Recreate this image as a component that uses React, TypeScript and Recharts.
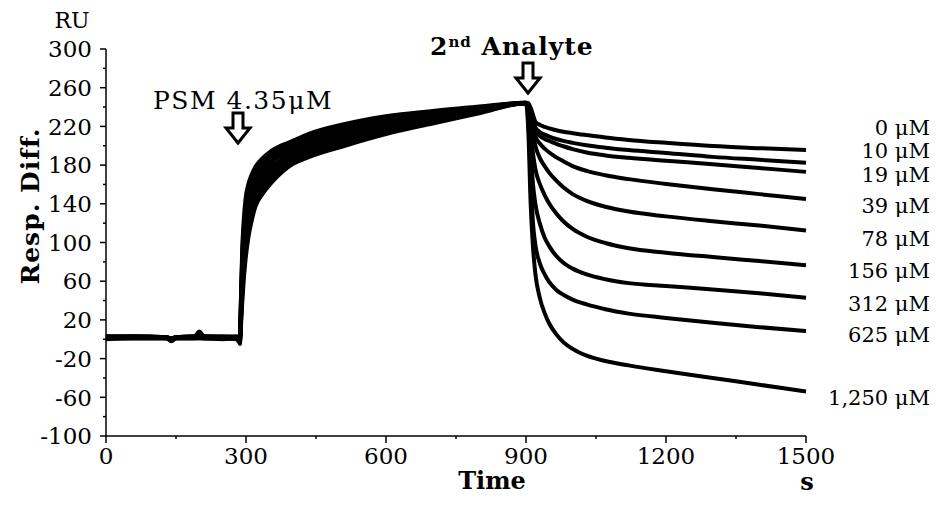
import React from "react";
import { LineChart, Line, XAxis, YAxis } from "recharts";

// time points (s)
const times = [
  0, 60, 130, 140, 150, 190, 200, 210, 250, 280, 285, 287,
  289, 292, 295, 299, 305, 312, 320, 335, 355, 400, 433, 512, 600, 700, 800, 900,
  905, 910, 915, 920, 930, 940, 950, 965, 980, 1000, 1030, 1070, 1120, 1200, 1300, 1400, 1500,
];

// response (RU) per 2nd analyte concentration
const c0 = [
  2, 2, 2, 1, 2, 2, 3, 2, 2, 2, 1, 0,
  36.5, 88, 114, 137, 153, 164, 173, 182, 191, 202, 209, 219.7, 228.2, 234.4, 239.6, 244.5,
  244, 239, 232, 225, 221.5, 219.5, 218, 216, 214.5, 213, 211, 208.5, 206, 203, 199.7, 197.5, 195.5,
];
const c10 = [
  3, 3, 2, 0, 2, 3, 8, 3, 3, 2, -2, -3,
  40, 95, 122, 145, 160, 170, 178, 187, 195, 205, 212, 222.5, 230.5, 236, 240.5, 244.5,
  243, 238, 228, 219, 214, 211.5, 209.5, 207, 205, 203, 200.5, 198, 195.5, 192.5, 188.5, 185.5, 182.5,
];
const c19 = [
  1, 1, 1, -2, 1, 1, 2, 1, 1, 1, -1, -4,
  33, 81, 106, 129, 146, 158, 168, 178, 187, 199, 206, 216.9, 225.9, 232.8, 238.8, 244.5,
  243, 237, 226, 216, 210, 207, 205, 202, 199.5, 196.5, 193, 190, 187.5, 184.5, 181, 177, 173,
];
const c39 = [
  2, 2, 2, 1, 2, 2, 2, 2, 2, 2, 0, 1,
  29.5, 74, 99, 121, 139, 152, 163, 173, 183, 196, 203, 214.1, 223.6, 231.1, 237.9, 244,
  242, 234, 220, 210, 202, 197, 193, 188, 184, 179, 174, 169.5, 165.5, 160.5, 155, 150, 145,
];
const c78 = [
  1, 2, 1, 0, 1, 2, 2, 1, 1, 1, -3, -2,
  26, 66, 91, 113, 132, 146, 157, 168, 178, 193, 200, 211.3, 221.3, 229.5, 237, 244,
  240, 228, 212, 200, 187, 179, 172, 164, 157, 150, 143, 137, 132, 127, 122, 117.5, 112.5,
];
const c156 = [
  3, 2, 2, 1, 2, 3, 3, 2, 2, 3, 1, 0,
  22.5, 59, 83, 106, 126, 140, 152, 164, 174, 190, 197, 208.4, 219, 227.9, 236.1, 244,
  236, 215, 192, 176, 160, 149, 140, 130, 122, 114, 106, 99.5, 94, 89.5, 85, 80.8, 76.5,
];
const c312 = [
  0, 1, 1, -1, 1, 1, 1, 1, 1, 0, -2, -5,
  19, 52, 75, 98, 119, 134, 147, 159, 170, 187, 194, 205.6, 216.6, 226.3, 235.3, 244,
  232, 195, 160, 140, 119, 105, 96, 86, 79, 73, 67, 62, 58, 55, 51.5, 47.5, 43,
];
const c625 = [
  2, 3, 2, 0, 2, 2, 3, 3, 2, 2, 0, -1,
  15.5, 45, 68, 90, 112, 128, 142, 155, 166, 184, 191, 202.8, 214.3, 224.6, 234.4, 244,
  225, 170, 120, 98, 78, 67, 59, 51, 46, 41, 36, 31, 26.5, 22, 17, 12.5, 8.5,
];
const c1250 = [
  1, 1, 1, -1, 1, 1, 1, 1, 0, 1, -1, -2,
  12, 38, 60, 82, 105, 122, 137, 150, 162, 181, 188, 200, 212, 223, 233.5, 244,
  215, 140, 95, 68, 42, 27, 16, 5, -3, -10, -17, -22.5, -27, -33, -40, -47, -54,
];

const seriesKeys = ["c0", "c10", "c19", "c39", "c78", "c156", "c312", "c625", "c1250"];
const seriesValues = [c0, c10, c19, c39, c78, c156, c312, c625, c1250];
const concLabels = ["0 μM", "10 μM", "19 μM", "39 μM", "78 μM", "156 μM", "312 μM", "625 μM", "1,250 μM"];

const yTicks = [-100, -80, -60, -40, -20, 0, 20, 40, 60, 80, 100, 120, 140, 160, 180, 200, 220, 240, 260, 280, 300];
const yMajor = [-100, -60, -20, 20, 60, 100, 140, 180, 220, 260, 300];
const xTicks = [0, 150, 300, 450, 600, 750, 900, 1050, 1200, 1350, 1500];
const xMajor = [0, 300, 600, 900, 1200, 1500];

const data = times.map((t, i) => {
  const row: any = { t };
  seriesKeys.forEach((k, j) => {
    row[k] = seriesValues[j][i];
  });
  return row;
});

const W = 937;
const H = 507;
const PLOT_LEFT = 106;
const PLOT_TOP = 49;
const PLOT_RIGHT = 806;
const PLOT_BOTTOM = 436;
const FONT = "'DejaVu Serif', serif";

const YTick = (props: any) => {
  const { y, payload } = props;
  const major = yMajor.includes(payload.value);
  return (
    <g>
      <line x1={PLOT_LEFT - (major ? 6 : 3)} x2={PLOT_LEFT} y1={y} y2={y} stroke="#000" strokeWidth={1.5} />
      {major && (
        <text x={PLOT_LEFT - 14} y={y} dy="0.36em" textAnchor="end" fontFamily={FONT} fontSize={23} fill="#000">
          {payload.value}
        </text>
      )}
    </g>
  );
};

const XTick = (props: any) => {
  const { x, payload } = props;
  const major = xMajor.includes(payload.value);
  return (
    <g>
      <line x1={x} x2={x} y1={PLOT_BOTTOM} y2={PLOT_BOTTOM + (major ? 7 : 3)} stroke="#000" strokeWidth={1.5} />
      {major && (
        <text x={x} y={PLOT_BOTTOM + 10} dy="0.8em" textAnchor="middle" fontFamily={FONT} fontSize={23} fill="#000">
          {payload.value}
        </text>
      )}
    </g>
  );
};

const Arrow = ({ cx, top, tip }: { cx: number; top: number; tip: number }) => {
  const headY = top + (tip - top) * 0.5;
  const pts = [
    [cx - 5, top],
    [cx + 5, top],
    [cx + 5, headY],
    [cx + 12, headY],
    [cx, tip],
    [cx - 12, headY],
    [cx - 5, headY],
  ]
    .map((p) => p.join(","))
    .join(" ");
  return <polygon points={pts} fill="#fff" stroke="#000" strokeWidth={3} strokeLinejoin="miter" />;
};

const labelY = [127, 150, 174, 205, 238, 270, 303, 334, 397];

export default function App() {
  return (
    <div style={{ position: "absolute", left: 0, top: 0, width: W, height: H, background: "#fff" }}>
      <LineChart
        width={W}
        height={H}
        data={data}
        margin={{ top: PLOT_TOP, right: W - PLOT_RIGHT, bottom: H - PLOT_BOTTOM - 30, left: PLOT_LEFT - 60 }}
      >
        <XAxis
          dataKey="t"
          type="number"
          domain={[0, 1500]}
          ticks={xTicks}
          interval={0}
          height={30}
          axisLine={{ stroke: "#000", strokeWidth: 1.5 }}
          tickLine={false}
          tick={<XTick />}
        />
        <YAxis
          type="number"
          domain={[-100, 300]}
          ticks={yTicks}
          interval={0}
          width={60}
          axisLine={{ stroke: "#000", strokeWidth: 1.5 }}
          tickLine={false}
          tick={<YTick />}
        />
        {seriesKeys.map((k) => (
          <Line
            key={k}
            dataKey={k}
            type="monotone"
            stroke="#000"
            strokeWidth={4}
            dot={false}
            activeDot={false}
            isAnimationActive={false}
            strokeLinejoin="round"
          />
        ))}
      </LineChart>
      <svg width={W} height={H} style={{ position: "absolute", left: 0, top: 0, pointerEvents: "none" }}>
        <text x={72} y={20} dy="0.36em" textAnchor="middle" fontFamily={FONT} fontSize={22} fill="#000">RU</text>
        <text
          x={30}
          y={206}
          dy="0.36em"
          textAnchor="middle"
          fontFamily={FONT}
          fontSize={25}
          fontWeight="bold"
          letterSpacing={1}
          fill="#000"
          transform="rotate(-90 30 206)"
        >
          Resp. Diff.
        </text>
        <text x={492} y={480} dy="0.36em" textAnchor="middle" fontFamily={FONT} fontSize={24} fontWeight="bold" fill="#000">Time</text>
        <text x={807} y={481} dy="0.36em" textAnchor="middle" fontFamily={FONT} fontSize={24} fontWeight="bold" fill="#000">s</text>
        <text x={153} y={100} dy="0.36em" textAnchor="start" fontFamily={FONT} fontSize={25} letterSpacing={1.5} fill="#000">{"PSM 4.35μM"}</text>
        <text x={430} y={46} dy="0.36em" textAnchor="start" fontFamily={FONT} fontSize={25} fontWeight="bold" letterSpacing={1} fill="#000">
          2<tspan fontSize={15} dy="-0.55em">nd</tspan>
          <tspan dy="0.34em">{" Analyte"}</tspan>
        </text>
        <Arrow cx={238} top={113} tip={143} />
        <Arrow cx={528} top={63} tip={93} />
        {concLabels.map((l, i) => (
          <text key={l} x={930} y={labelY[i]} dy="0.36em" textAnchor="end" fontFamily={FONT} fontSize={21} fill="#000">
            {l}
          </text>
        ))}
      </svg>
    </div>
  );
}
